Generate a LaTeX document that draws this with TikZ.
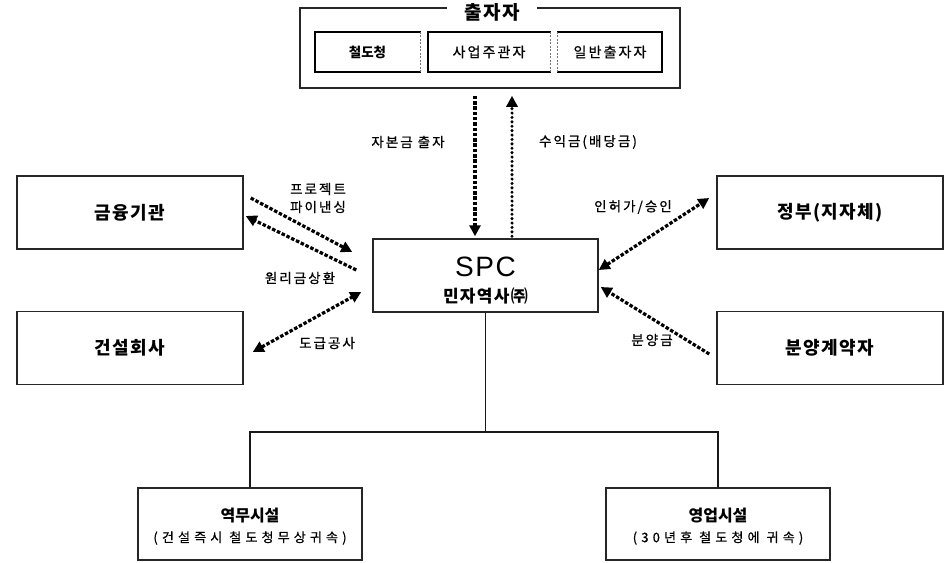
\documentclass[tikz,border=0pt]{standalone}
\usepackage{fontspec}
\setmainfont{Liberation Sans}
\newfontfamily\kr{Noto Sans CJK KR}
\newfontfamily\krm{Noto Sans CJK KR}[LetterSpace=8]
\newfontfamily\krs{Noto Sans CJK KR}[LetterSpace=15,FakeBold=0.8]
\newfontfamily\krw{Noto Sans CJK KR}[LetterSpace=32,FakeBold=0.8]
\usetikzlibrary{arrows.meta,calc}
\tikzset{
  bigbox/.style={draw=black!85, line width=1.5pt, minimum width=226pt, minimum height=73pt, inner sep=0pt,
    font=\krm\bfseries\fontsize{18}{21}\selectfont},
  botbox/.style={draw=black!85, line width=1.5pt, minimum width=224pt, minimum height=72pt, inner sep=0pt},
  innerbox/.style={minimum height=40pt, inner sep=0pt, font=\krs\fontsize{14}{16}\selectfont},
  thickside/.style={line width=2.5pt, line cap=rect},
  thinside/.style={line width=1pt, draw=black!55, dash pattern=on 2pt off 1.5pt},
  lbl/.style={inner sep=0pt, font=\krs\fontsize{13.5}{16}\selectfont},
  dasharrow/.style={line width=3.2pt, dash pattern=on 3.5pt off 1.8pt},
  dotarrow/.style={line width=3.4pt, line cap=round, dash pattern=on 0pt off 4.4pt},
  tipB/.style={-{Triangle[length=11pt,width=11pt]}},
  tipBB/.style={{Triangle[length=11pt,width=11pt]}-{Triangle[length=11pt,width=11pt]}},
  treeline/.style={line width=1.4pt, draw=black!90},
}
\begin{document}
\begin{tikzpicture}[x=1pt,y=-1pt]
\useasboundingbox (0,0) rectangle (952,562);

% investors group
\node[draw=black!85, line width=1.5pt, minimum width=380pt, minimum height=80pt, inner sep=0pt] (inv) at (490,48) {};
\node[fill=white, inner xsep=17pt, inner ysep=2pt, font=\krm\bfseries\fontsize{19}{22}\selectfont] (ttl) at (492,12) {출자자};

\node[innerbox, minimum width=105pt, font=\kr\bfseries\fontsize{13.5}{16}\selectfont] (rail) at (367.5,52) {철도청};
\node[innerbox, minimum width=122pt] (biz) at (489,52) {사업주관자};
\node[innerbox, minimum width=104pt] (gen) at (610,52) {일반출자자};
\draw[thickside] (rail.north east) -- (rail.north west) -- (rail.south west) -- (rail.south east);
\draw[thinside] (rail.north east) -- (rail.south east);
\draw[thickside] (biz.north east) -- (biz.north west) -- (biz.south west) -- (biz.south east);
\draw[thinside] (biz.north east) -- (biz.south east);
\draw[thickside] (gen.north west) -- (gen.north east) -- (gen.south east) -- (gen.south west);
\draw[thinside] (gen.north west) -- (gen.south west);

% side boxes
\node[bigbox] (fin) at (130,212.5) {금융기관};
\node[bigbox] (con) at (130,348) {건설회사};
\node[bigbox] (gov) at (830,212.5) {정부(지자체)};
\node[bigbox] (buy) at (830,348) {분양계약자};

% SPC
\node[draw=black!85, line width=1.5pt, minimum width=225pt, minimum height=73pt, inner sep=0pt] (spc) at (485.5,275.5) {};
\node[inner sep=0pt, font=\fontsize{28}{30}\selectfont] (spct) at ([yshift=8.5pt]spc.center) {S\kern1.5pt P\kern1.5pt C};
\node[inner sep=0pt, font=\krm\bfseries\fontsize{17}{20}\selectfont] (spcs) at ([yshift=-20.5pt]spc.center) {민자역사㈜};

% bottom boxes
\node[botbox] (yeok) at (250,524) {};
\node[inner sep=0pt, font=\kr\bfseries\fontsize{16}{18}\selectfont] (yeokt) at ([yshift=8pt]yeok.center) {역무시설};
\node[inner sep=0pt, font=\krw\fontsize{13}{15}\selectfont] (yeoks) at ([yshift=-14pt]yeok.center) {(건설즉시 철도청무상귀속)};
\node[botbox] (yeong) at (718,524) {};
\node[inner sep=0pt, font=\kr\bfseries\fontsize{16}{18}\selectfont] (yeongt) at ([yshift=8pt]yeong.center) {영업시설};
\node[inner sep=0pt, font=\krw\fontsize{13}{15}\selectfont] (yeongs) at ([yshift=-14pt]yeong.center) {(30년후 철도청에 귀속)};

% tree
\coordinate (j) at (485.5,432);
\draw[treeline] (spc.south) -- (j);
\draw[treeline] (yeok.north) |- (j) -| (yeong.north);

% vertical arrows
\draw[dasharrow, tipB] ([xshift=-15pt,yshift=-7pt]inv.south) -- ([xshift=-10.5pt,yshift=2pt]spc.north);
\draw[dotarrow, tipB] ([xshift=26.5pt,yshift=2pt]spc.north) -- ([xshift=22pt,yshift=-7pt]inv.south);

% diagonal arrows
\draw[dasharrow, tipB] ([xshift=7pt,yshift=14.5pt]fin.east) -- ([xshift=-20pt,yshift=23.5pt]spc.west);
\draw[dasharrow, tipB] ([xshift=-16pt,yshift=5.5pt]spc.west) -- ([xshift=2pt,yshift=-3.5pt]fin.east);
\draw[dasharrow, tipBB] ([xshift=9pt,yshift=-4pt]con.east) -- ([xshift=-11pt,yshift=-16.5pt]spc.west);
\draw[dasharrow, tipBB] ([yshift=5.5pt]spc.east) -- ([xshift=-7pt,yshift=14.5pt]gov.west);
\draw[dasharrow, tipB] ([xshift=-7pt,yshift=-6pt]buy.west) -- ([xshift=2pt,yshift=-11.5pt]spc.east);

% labels
\node[lbl] (l1) at (408,142) {자본금 출자};
\node[lbl] (l2) at (588,142) {수익금(배당금)};
\node[lbl, align=center, font=\krs\fontsize{13.5}{18}\selectfont] (l3) at (318,198) {프로젝트\\파이낸싱};
\node[lbl] (l4) at (300,278) {원리금상환};
\node[lbl] (l5) at (327,343) {도급공사};
\node[lbl] (l6) at (633,207) {인허가/승인};
\node[lbl] (l7) at (652,340) {분양금};
\end{tikzpicture}
\end{document}
